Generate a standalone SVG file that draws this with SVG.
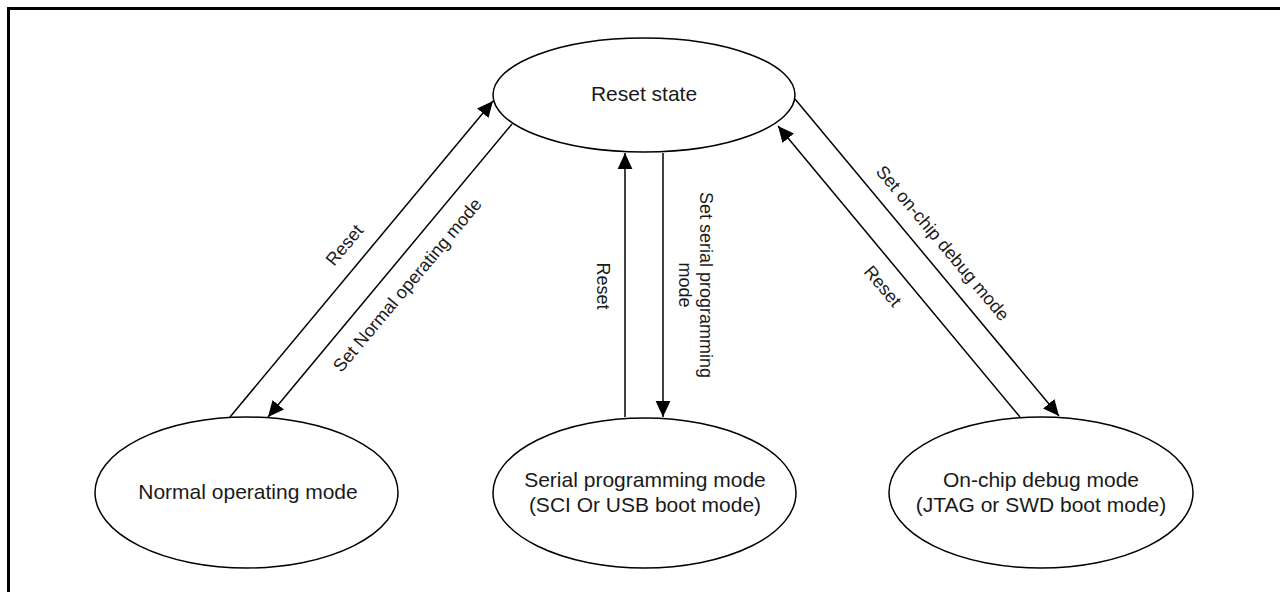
<svg xmlns="http://www.w3.org/2000/svg" width="1280" height="592" viewBox="0 0 1280 592">
<style>
.node ellipse{fill:#fff;stroke:#000;stroke-width:1.5}
.nt{font-family:"Liberation Sans",Arial,sans-serif;font-size:21px;fill:#1a1a1a;text-anchor:middle}
.lt{font-family:"Liberation Sans",Arial,sans-serif;font-size:18px;fill:#1a1a1a;text-anchor:middle}
.edge{stroke:#000;stroke-width:1.5;fill:none}
</style>
<defs>
<marker id="arr" markerUnits="userSpaceOnUse" markerWidth="16" markerHeight="16" refX="13" refY="6" orient="auto" viewBox="0 0 13 12">
<path d="M0,0 L13,6 L0,12 z" fill="#000"/>
</marker>
</defs>
<rect x="8.5" y="8.5" width="1290" height="600" fill="#fff" stroke="#000" stroke-width="3"/>
<g id="connectors">
<line class="edge" x1="230" y1="417" x2="493" y2="101" marker-end="url(#arr)"/>
<line class="edge" x1="512" y1="124" x2="268" y2="417" marker-end="url(#arr)"/>
<line class="edge" x1="625" y1="417" x2="625" y2="153" marker-end="url(#arr)"/>
<line class="edge" x1="663" y1="153" x2="663" y2="417" marker-end="url(#arr)"/>
<line class="edge" x1="795" y1="99" x2="1059" y2="416" marker-end="url(#arr)"/>
<line class="edge" x1="1020" y1="417" x2="778" y2="126" marker-end="url(#arr)"/>
<text class="lt" transform="translate(349,249) rotate(-50)">Reset</text>
<text class="lt" transform="translate(412,289) rotate(-50)">Set Normal operating mode</text>
<text class="lt" transform="translate(597,286) rotate(90)">Reset</text>
<text class="lt" transform="translate(690,285) rotate(90)"><tspan x="0" y="-10">Set serial programming</tspan><tspan x="0" y="11">mode</tspan></text>
<text class="lt" transform="translate(938,247) rotate(50)">Set on-chip debug mode</text>
<text class="lt" transform="translate(878,290) rotate(50)">Reset</text>
</g>
<g id="reset-state" class="node">
<ellipse cx="644" cy="95" rx="151" ry="57"/>
<text class="nt" x="644" y="101">Reset state</text>
</g>
<g id="normal-mode" class="node">
<ellipse cx="246.5" cy="492.5" rx="151.5" ry="75.5"/>
<text class="nt" x="248" y="499">Normal operating mode</text>
</g>
<g id="serial-mode" class="node">
<ellipse cx="644.5" cy="493" rx="151.5" ry="75"/>
<text class="nt" x="645" y="487">Serial programming mode</text>
<text class="nt" x="645" y="512">(SCI Or USB boot mode)</text>
</g>
<g id="debug-mode" class="node">
<ellipse cx="1041" cy="492.5" rx="152" ry="75.5"/>
<text class="nt" x="1041" y="487">On-chip debug mode</text>
<text class="nt" x="1041" y="512">(JTAG or SWD boot mode)</text>
</g>
</svg>
